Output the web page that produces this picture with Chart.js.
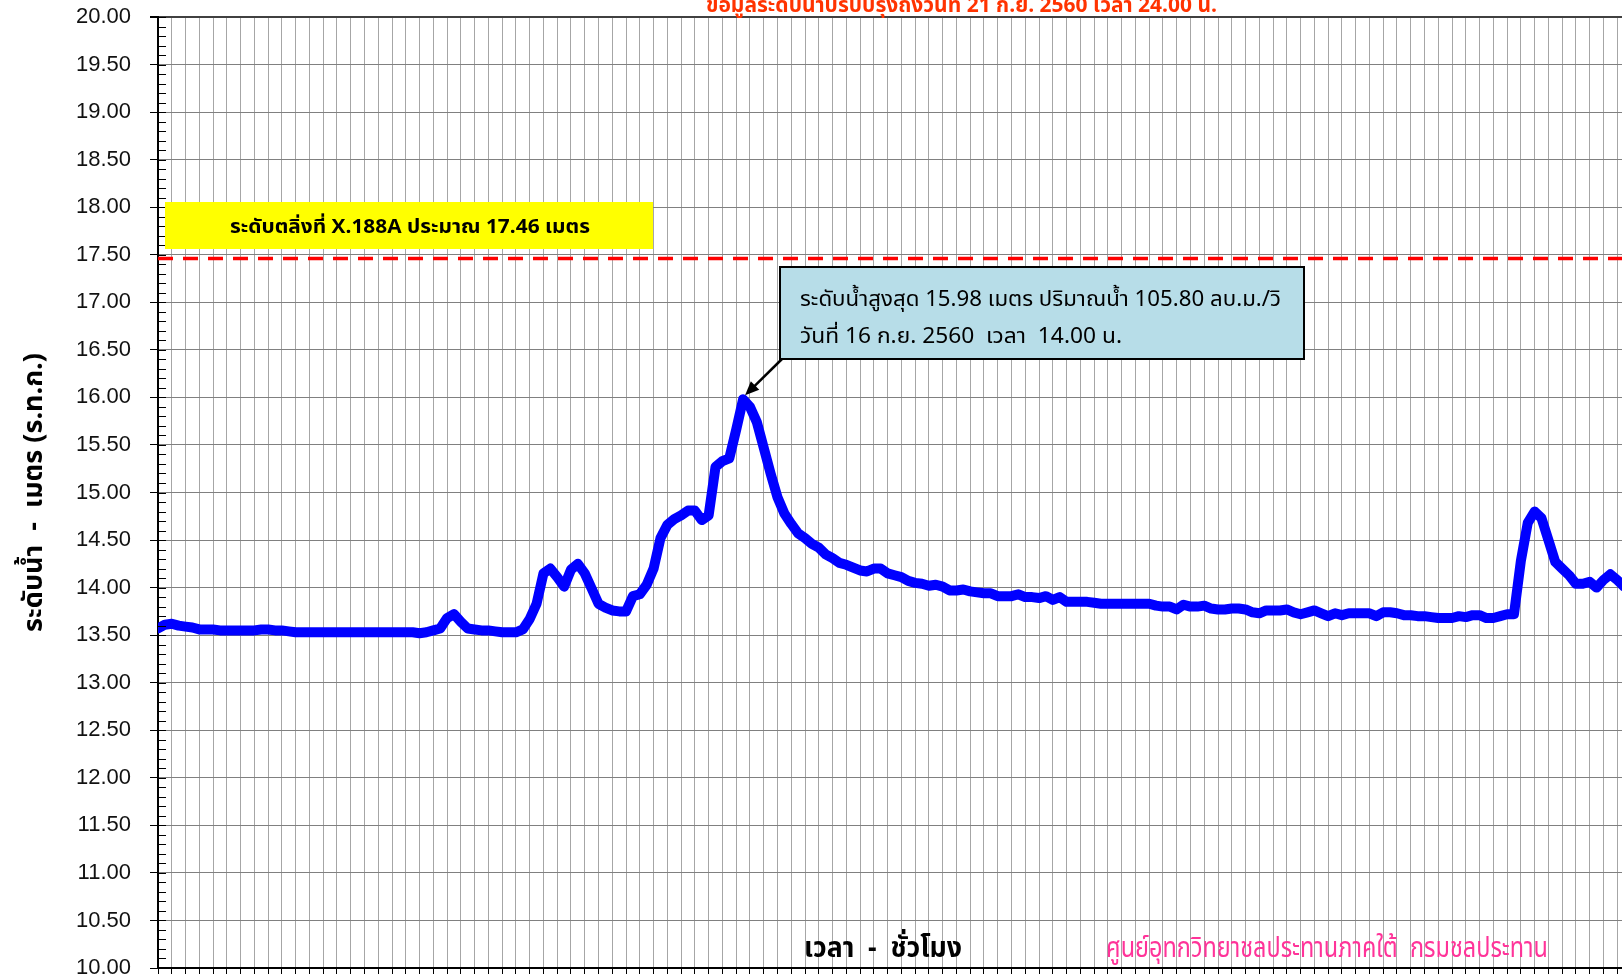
<!DOCTYPE html>
<html>
<head>
<meta charset="utf-8">
<title>ระดับน้ำ X.188A</title>
<script src="https://cdn.jsdelivr.net/npm/chart.js@4.4.0/dist/chart.umd.min.js"></script>
<style>
  html, body { margin: 0; padding: 0; background: #fff; overflow: hidden; }
  #wrap { position: absolute; left: 0; top: 0; width: 1640px; height: 976px; }
</style>
</head>
<body>
<div id="wrap"><canvas id="levelChart" width="1640" height="976"></canvas></div>
<script>
  // Water level (m MSL), one reading per hour
  var levels = [
    13.57, 13.61, 13.62, 13.60, 13.59, 13.58, 13.56, 13.56, 13.56, 13.55,
    13.55, 13.55, 13.55, 13.55, 13.55, 13.56, 13.56, 13.55, 13.55, 13.54,
    13.53, 13.53, 13.53, 13.53, 13.53, 13.53, 13.53, 13.53, 13.53, 13.53,
    13.53, 13.53, 13.53, 13.53, 13.53, 13.53, 13.53, 13.53,
    13.52, 13.53, 13.55, 13.57, 13.68, 13.72, 13.64, 13.57,
    13.56, 13.55, 13.55, 13.54, 13.53, 13.53, 13.53, 13.56, 13.67, 13.83,
    14.15, 14.20, 14.11, 14.01, 14.19, 14.25, 14.15, 13.99, 13.83, 13.79,
    13.76, 13.75, 13.75, 13.91, 13.93, 14.03, 14.20, 14.52, 14.66, 14.72,
    14.76, 14.81, 14.81, 14.71, 14.76, 15.27, 15.33, 15.36, 15.66, 15.98,
    15.90, 15.74, 15.47, 15.20, 14.95, 14.78, 14.67, 14.57, 14.52, 14.46,
    14.42, 14.35, 14.31, 14.26, 14.24, 14.21, 14.18, 14.17, 14.20, 14.20,
    14.15, 14.13, 14.11, 14.07, 14.05, 14.04, 14.02, 14.03, 14.01, 13.97,
    13.97, 13.98, 13.96, 13.95, 13.94, 13.94, 13.91, 13.91, 13.91, 13.93,
    13.90, 13.90, 13.89, 13.91, 13.87, 13.90, 13.85, 13.85, 13.85, 13.85,
    13.84, 13.83, 13.83, 13.83, 13.83, 13.83, 13.83, 13.83, 13.83, 13.81,
    13.80, 13.80, 13.77, 13.82, 13.80, 13.80, 13.81, 13.78, 13.77, 13.77,
    13.78, 13.78, 13.77, 13.74, 13.73, 13.76, 13.76, 13.76, 13.77, 13.74,
    13.72, 13.74, 13.76, 13.73, 13.70, 13.73, 13.71, 13.73, 13.73, 13.73,
    13.73, 13.70, 13.74, 13.74, 13.73, 13.71, 13.71, 13.70, 13.70, 13.69,
    13.68, 13.68, 13.68, 13.70, 13.69, 13.71, 13.71, 13.68, 13.68, 13.70,
    13.72, 13.72, 14.28, 14.68, 14.80, 14.73, 14.50, 14.27, 14.20, 14.13,
    14.04, 14.04, 14.06, 14.00, 14.08, 14.14, 14.08, 14.01, 13.98
  ];

  // Bank level and peak reading
  var bankLevel = 17.46;
  var peakHour = 85;
  var peakLevel = 15.98;

  // Axis settings
  var yMin = 10, yMax = 20, yStep = 0.5, yMinorStep = 0.1;
  var hourMax = 214, hourStep = 2;

  // Texts
  var titleText = "ข้อมูลระดับน้ำปรับปรุงถึงวันที่ 21 ก.ย. 2560 เวลา 24.00 น.";
  var yTitle = "ระดับน้ำ  -  เมตร (ร.ท.ก.)";
  var xTitle = "เวลา  -  ชั่วโมง";
  var sourceText = "ศูนย์อุทกวิทยาชลประทานภาคใต้  กรมชลประทาน";
  var bankText = "ระดับตลิ่งที่ X.188A ประมาณ 17.46 เมตร";
  var peakText1 = "ระดับน้ำสูงสุด 15.98 เมตร ปริมาณน้ำ 105.80 ลบ.ม./วิ";
  var peakText2 = "วันที่ 16 ก.ย. 2560  เวลา  14.00 น.";

  var thaiFont = "Tahoma, 'Noto Sans Thai', 'Noto Sans', 'DejaVu Sans', sans-serif";

  var levelPoints = levels.map(function (v, i) { return { x: i, y: v }; });
  var bankPoints = [{ x: 0, y: bankLevel }, { x: hourMax, y: bankLevel }];

  // draw text squeezed/stretched to a given width (mimics condensed Thai fonts)
  function drawFitted(ctx, text, x, y, width, font, color) {
    ctx.save();
    ctx.font = font;
    ctx.fillStyle = color;
    ctx.textAlign = "left";
    ctx.textBaseline = "alphabetic";
    var w = ctx.measureText(text).width;
    ctx.translate(x, y);
    ctx.scale(width / w, 1);
    ctx.fillText(text, 0, 0);
    ctx.restore();
  }

  // minor ticks on the inside of the y axis
  var minorTicks = {
    id: "minorTicks",
    afterDraw: function (chart) {
      var ctx = chart.ctx;
      var ys = chart.scales.y;
      var left = chart.chartArea.left;
      ctx.save();
      ctx.strokeStyle = "#000";
      ctx.lineWidth = 1;
      ctx.beginPath();
      for (var v = yMin; v <= yMax + 0.001; v += yMinorStep) {
        var py = Math.round(ys.getPixelForValue(v)) + 0.5;
        ctx.moveTo(left, py);
        ctx.lineTo(left + 8, py);
      }
      ctx.stroke();
      ctx.restore();
    }
  };

  // boxes, callout and free texts
  var annotations = {
    id: "annotations",
    afterDraw: function (chart) {
      var ctx = chart.ctx;
      var xs = chart.scales.x;
      var ys = chart.scales.y;

      // title (cut at the top edge as in the original)
      drawFitted(ctx, titleText, 706, 12, 511, "bold 22px " + thaiFont, "#ff3300");

      // bank level label
      ctx.save();
      ctx.fillStyle = "#ffff00";
      ctx.fillRect(165, 202, 488, 47);
      ctx.restore();
      drawFitted(ctx, bankText, 230, 233, 360, "bold 19px " + thaiFont, "#000");

      // peak callout
      ctx.save();
      ctx.fillStyle = "#b7dde8";
      ctx.strokeStyle = "#000";
      ctx.lineWidth = 2;
      ctx.fillRect(780, 267, 524, 92);
      ctx.strokeRect(780, 267, 524, 92);
      ctx.restore();
      drawFitted(ctx, peakText1, 800, 306, 481, "21px " + thaiFont, "#000");
      drawFitted(ctx, peakText2, 800, 343, 322, "21px " + thaiFont, "#000");

      // arrow to the peak
      var tipX = xs.getPixelForValue(peakHour) + 2;
      var tipY = ys.getPixelForValue(peakLevel) - 4;
      var startX = 782, startY = 359;
      var ang = Math.atan2(tipY - startY, tipX - startX);
      ctx.save();
      ctx.strokeStyle = "#000";
      ctx.fillStyle = "#000";
      ctx.lineWidth = 2.5;
      ctx.beginPath();
      ctx.moveTo(startX, startY);
      ctx.lineTo(tipX - 10 * Math.cos(ang), tipY - 10 * Math.sin(ang));
      ctx.stroke();
      ctx.beginPath();
      ctx.moveTo(tipX, tipY);
      ctx.lineTo(tipX - 14 * Math.cos(ang) + 6 * Math.sin(ang), tipY - 14 * Math.sin(ang) - 6 * Math.cos(ang));
      ctx.lineTo(tipX - 14 * Math.cos(ang) - 6 * Math.sin(ang), tipY - 14 * Math.sin(ang) + 6 * Math.cos(ang));
      ctx.closePath();
      ctx.fill();
      ctx.restore();

      // bottom texts
      drawFitted(ctx, xTitle, 804, 957, 158, "bold 28px " + thaiFont, "#000");
      drawFitted(ctx, sourceText, 1106, 957, 442, "28px " + thaiFont, "#ff3399");
    }
  };

  var ctx = document.getElementById("levelChart").getContext("2d");

  var chart = new Chart(ctx, {
    type: "line",
    data: {
      datasets: [
        {
          label: "ระดับน้ำ",
          data: levelPoints,
          borderColor: "#0000ff",
          borderWidth: 10,
          borderJoinStyle: "round",
          borderCapStyle: "round",
          pointRadius: 0,
          tension: 0,
          fill: false,
        },
        {
          label: "ระดับตลิ่ง",
          data: bankPoints,
          borderColor: "#ff0000",
          borderWidth: 3.5,
          borderDash: [15, 10],
          pointRadius: 0,
          fill: false,
        },
      ],
    },
    options: {
      responsive: false,
      animation: false,
      events: [],
      layout: { padding: { top: 17, right: 9, bottom: 0, left: 0 } },
      plugins: {
        legend: { display: false },
        tooltip: { enabled: false },
        title: { display: false },
      },
      scales: {
        x: {
          type: "linear",
          min: 0,
          max: hourMax,
          afterFit: function (scale) {
            scale.height = 8;
          },
          ticks: { display: false, stepSize: hourStep, autoSkip: false },
          grid: {
            color: "#a6a6a6",
            lineWidth: 1,
            tickLength: 6,
            tickColor: "#000",
          },
          border: { color: "#000", width: 2 },
        },
        y: {
          min: yMin,
          max: yMax,
          afterFit: function (scale) {
            scale.width = 158;
            scale.paddingTop = 0;
            scale.paddingBottom = 0;
          },
          ticks: {
            stepSize: yStep,
            padding: 19,
            color: "#111",
            font: { family: "'Liberation Sans', Arial, sans-serif", size: 22 },
            callback: function (v) {
              return Number(v).toFixed(2);
            },
          },
          grid: {
            color: function (c) {
              return c.tick && c.tick.value === yMax ? "#404040" : "#808080";
            },
            lineWidth: function (c) {
              return c.tick && c.tick.value === yMax ? 2 : 1;
            },
            tickLength: 8,
            tickColor: "#000",
          },
          border: { color: "#000", width: 2 },
          title: {
            display: true,
            text: yTitle,
            color: "#000",
            padding: { top: 20, bottom: 0 },
            font: { family: thaiFont, size: 27, weight: "bold" },
          },
        },
      },
    },
    plugins: [minorTicks, annotations],
  });
</script>
</body>
</html>
